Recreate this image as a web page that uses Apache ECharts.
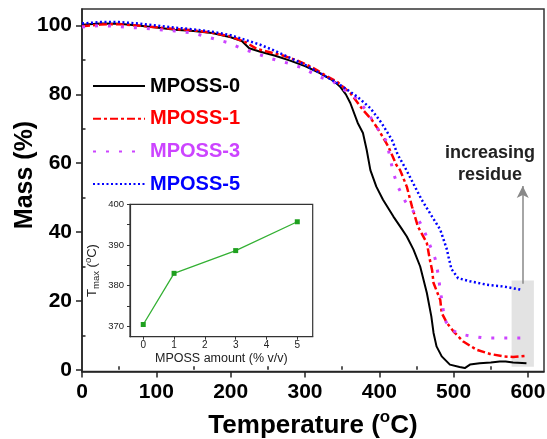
<!DOCTYPE html>
<html><head><meta charset="utf-8">
<script src="https://cdn.jsdelivr.net/npm/echarts@6/dist/echarts.min.js"></script>
<style>html,body{margin:0;padding:0;background:#fff}#c{width:547px;height:439px}</style>
</head><body><div id="c"></div><script>
const seriesNames = ['MPOSS-0', 'MPOSS-1', 'MPOSS-3', 'MPOSS-5'];
// [temperature (°C), mass (%)]
const mposs0 = [[0,100.2],[25,100.6],[50,100.5],[75,100],[100,99.4],[125,98.8],[150,98.4],[175,97.8],[200,96.6],[215,95.5],[225,93.4],[240,92.4],[260,91.2],[280,89.8],[300,88.2],[320,86.2],[338,84.0],[347,82.3],[355,80],[361,77.5],[371,71.7],[378,68.8],[383,63.9],[388,58],[396,53.2],[405,49.4],[419,44.5],[430,41],[437,38.7],[446,34.9],[455,30],[464,22.3],[470,15.5],[473,10.7],[477,6.8],[484,3.9],[495,1.5],[508,0.8],[515,0.5],[522,1.5],[535,1.9],[550,2.1],[562,2.4],[570,2.4],[580,2.1],[598,1.9]];
const mposs1 = [[0,99.8],[25,100.3],[50,100.4],[75,100],[100,99.5],[125,99],[150,98.6],[175,97.9],[200,96.8],[220,95.2],[235,93.2],[250,92.4],[270,91.3],[290,89.8],[310,87.8],[330,85.2],[343,83.7],[361,80.4],[378,75.5],[390,72.6],[399,69.7],[412,64.9],[423,59.5],[428,58],[437,53.2],[444,47.4],[452,41.6],[464,36.8],[468,32],[471,29],[473,25.2],[482,20.3],[484,16.5],[491,13.6],[500,11.1],[513,8.2],[531,5.8],[549,4.6],[567,3.9],[580,3.7],[596,4.0]];
const mposs3 = [[0,99.6],[25,100],[50,99.7],[75,99.3],[100,98.9],[125,98.4],[150,97.8],[175,96.3],[197,95.0],[215,93.3],[233,92.0],[256,90.3],[278,89.0],[298,87.6],[318,85.2],[338,83.7],[355,81],[372,78.4],[385,74.5],[398,70],[410,66.3],[414,62],[419,57.1],[426,52.8],[435,48.9],[446,46],[459,41.2],[466,37.3],[475,32.4],[479,28],[482,23.2],[488,14.5],[497,11.6],[508,10.4],[520,9.9],[542,9.2],[565,9.2],[587,9.2],[596,9.2]];
const mposs5 = [[0,100.6],[25,101],[50,101],[75,100.6],[100,100],[125,99.4],[150,98.9],[175,98.2],[200,97.2],[220,95.8],[240,94.4],[260,92.6],[280,90.6],[300,88.6],[320,86.2],[347,82.8],[370,79.4],[388,76],[403,71.7],[417,66.8],[425,62.4],[435,58.6],[441,56.1],[457,49.4],[471,44.5],[482,40.7],[491,34.9],[493,32.9],[497,29.3],[506,26.6],[522,25.7],[545,24.7],[567,24.2],[592,23.2]];

const xTicks = [0, 100, 200, 300, 400, 500, 600];
const xMinorTicks = [50, 150, 250, 350, 450, 550];
const yTicks = [0, 20, 40, 60, 80, 100];
const yMinorTicks = [10, 30, 50, 70, 90];

const insetAmount = [0, 1, 3, 5];
const insetTmax = [370.4, 383.0, 388.6, 395.7];
const insetXTicks = [0, 1, 2, 3, 4, 5];
const insetYTicks = [370, 380, 390, 400];
const insetYMinorTicks = [375, 385, 395];

const residueBox = [[578, 0.9], [608, 25.9]];
const residueArrow = [[593, 25], [593, 53.4]];
const residueText = 'increasing\nresidue';

const FONT = 'Liberation Sans, Arial, sans-serif';
const colors = ['#000000', '#ff0000', '#cc44ff', '#0000ff'];
const lineStyles = [
  {width: 2, type: 'solid'},
  {width: 2.5, type: [8, 3, 3, 3]},
  {width: 3, type: [3, 10]},
  {width: 2.5, type: [2, 2.5]}
];
const datasets = [mposs0, mposs1, mposs3, mposs5];

const chart = echarts.init(document.getElementById('c'), null, {renderer: 'canvas'});

const axisLineStyle = {color: '#222', width: 1.5};

const option = {
  backgroundColor: '#fff',
  animation: false,
  grid: [
    {left: 82, top: 9, width: 462, height: 362.5, show: true, borderColor: '#333', borderWidth: 1.5,
     backgroundColor: 'transparent', containLabel: false, outerBoundsMode: 'none'},
    {left: 130, top: 204.3, width: 182.7, height: 132.4, show: true, borderColor: '#333', borderWidth: 1.2,
     backgroundColor: '#fff', containLabel: false, outerBoundsMode: 'none'}
  ],
  legend: {
    orient: 'vertical', left: 87, top: 71, itemWidth: 52, itemHeight: 12, itemGap: 12.7,
    itemStyle: {opacity: 0},
    data: seriesNames.map((n, i) => ({name: n, textStyle: {color: colors[i]}})),
    textStyle: {fontFamily: FONT, fontWeight: 'bold', fontSize: 20}
  },
  xAxis: [
    {type: 'value', gridIndex: 0, min: 0, max: 621.6,
     axisLine: {show: true, onZero: false, lineStyle: axisLineStyle},
     axisTick: {show: true, length: 6, customValues: xTicks, lineStyle: axisLineStyle},
     axisLabel: {customValues: xTicks, margin: 10, color: '#000', fontFamily: FONT, fontWeight: 'bold', fontSize: 21},
     splitLine: {show: false},
     name: '{a|Temperature (}{s|o}{a|C)}', nameLocation: 'middle', nameGap: 37,
     nameTextStyle: {rich: {
       a: {fontFamily: FONT, fontWeight: 'bold', fontSize: 26, color: '#000', lineHeight: 30, verticalAlign: 'bottom'},
       s: {fontFamily: FONT, fontWeight: 'bold', fontSize: 17, color: '#000', lineHeight: 30, verticalAlign: 'top', padding: [0, 0, 8, 0]}
     }}},
    {type: 'value', gridIndex: 0, min: 0, max: 621.6,
     axisLine: {show: false}, axisLabel: {show: false}, splitLine: {show: false},
     axisTick: {show: true, length: 3.5, customValues: xMinorTicks, lineStyle: axisLineStyle}},
    {type: 'value', gridIndex: 1, min: -0.43, max: 5.5,
     axisLine: {show: true, onZero: false, lineStyle: {color: '#333', width: 1.2}},
     axisTick: {show: true, length: 3, customValues: insetXTicks, lineStyle: {color: '#333', width: 1}},
     axisLabel: {customValues: insetXTicks, margin: 4, color: '#222', fontFamily: FONT, fontSize: 10},
     splitLine: {show: false},
     name: 'MPOSS amount (% v/v)', nameLocation: 'middle', nameGap: 14,
     nameTextStyle: {fontFamily: FONT, fontSize: 12.5, color: '#222'}}
  ],
  yAxis: [
    {type: 'value', gridIndex: 0, min: -0.5, max: 104.8,
     axisLine: {show: true, onZero: false, lineStyle: axisLineStyle},
     axisTick: {show: true, length: 6, customValues: yTicks, lineStyle: axisLineStyle},
     axisLabel: {customValues: yTicks, margin: 10, color: '#000', fontFamily: FONT, fontWeight: 'bold', fontSize: 21},
     splitLine: {show: false}},
    {type: 'value', gridIndex: 0, min: -0.5, max: 104.8,
     axisLine: {show: false}, axisLabel: {show: false}, splitLine: {show: false},
     axisTick: {show: true, length: 3.5, customValues: yMinorTicks, lineStyle: axisLineStyle}},
    {type: 'value', gridIndex: 1, min: 367.4, max: 400,
     axisLine: {show: true, onZero: false, lineStyle: {color: '#333', width: 1.2}},
     axisTick: {show: true, length: 3, customValues: insetYTicks.concat(insetYMinorTicks), lineStyle: {color: '#333', width: 1}},
     axisLabel: {customValues: insetYTicks, margin: 6, color: '#222', fontFamily: FONT, fontSize: 9.5},
     splitLine: {show: false},
     name: '{t|T}{b|max}{t| (}{p|o}{t|C)}', nameLocation: 'middle', nameGap: 29,
     nameTextStyle: {rich: {
       t: {fontFamily: FONT, fontSize: 13, color: '#222', lineHeight: 18, verticalAlign: 'middle'},
       b: {fontFamily: FONT, fontSize: 9.5, color: '#222', lineHeight: 18, verticalAlign: 'bottom'},
       p: {fontFamily: FONT, fontSize: 9.5, color: '#222', lineHeight: 18, verticalAlign: 'top'}
     }}}
  ],
  graphic: [
    {type: 'text', x: 25, y: 175, rotation: Math.PI / 2, z: 10,
     style: {text: 'Mass (%)', font: 'bold 25px ' + FONT, fill: '#000', align: 'center', verticalAlign: 'middle'}},
    {type: 'text', x: 490, y: 164, z: 10,
     style: {text: residueText, font: 'bold 18px ' + FONT, fill: '#222', align: 'center', verticalAlign: 'middle', lineHeight: 22}}
  ],
  series: [
    {type: 'line', xAxisIndex: 0, yAxisIndex: 0, data: [residueBox[0]], symbol: 'none', silent: true, z: 1,
     lineStyle: {opacity: 0},
     markArea: {silent: true, itemStyle: {color: '#e3e3e3'},
       data: [[{coord: residueBox[0]}, {coord: residueBox[1]}]]},
     markLine: {silent: true, symbol: ['none', 'arrow'], symbolSize: [9, 12],
       lineStyle: {color: '#888', width: 1.5, type: 'solid'}, label: {show: false},
       data: [[{coord: residueArrow[0]}, {coord: residueArrow[1]}]]}}
  ].concat(datasets.map((d, i) => ({
    name: seriesNames[i], type: 'line', xAxisIndex: 0, yAxisIndex: 0, data: d,
    symbol: 'none', z: 3 + i,
    itemStyle: {color: colors[i]},
    lineStyle: Object.assign({color: colors[i], cap: 'butt', join: 'round'}, lineStyles[i])
  }))).concat([
    {type: 'line', xAxisIndex: 2, yAxisIndex: 2, z: 10,
     data: insetAmount.map((a, i) => [a, insetTmax[i]]),
     symbol: 'rect', symbolSize: 5,
     itemStyle: {color: '#1fa01f'}, lineStyle: {color: '#33b033', width: 1.3}}
  ])
};
chart.setOption(option);
</script></body></html>
